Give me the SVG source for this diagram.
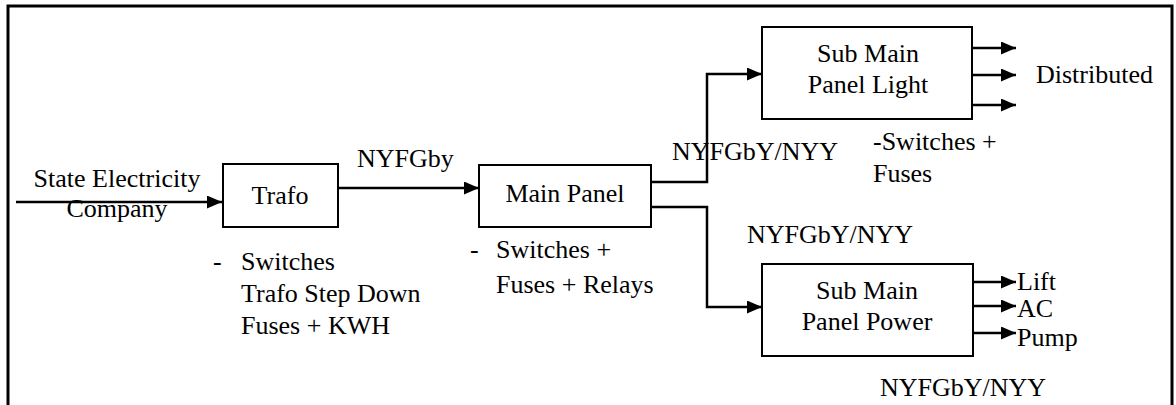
<svg xmlns="http://www.w3.org/2000/svg" width="1176" height="405" viewBox="0 0 1176 405">
  <style>
    text { font-family: "Liberation Serif", "Times New Roman", serif; font-size: 26px; fill: #000; }
    .mid { text-anchor: middle; }
    .box { fill: #fff; stroke: #000; stroke-width: 2; }
    .wire { fill: none; stroke: #000; stroke-width: 2.5; }
  </style>
  <defs>
    <marker id="arrow" markerUnits="userSpaceOnUse" markerWidth="15" markerHeight="13" refX="15" refY="6.5" orient="auto">
      <path d="M0,0 L15,6.5 L0,13 Z" fill="#000"/>
    </marker>
  </defs>
  <rect width="1176" height="405" fill="#fff"/>

  <!-- outer frame, open at the bottom -->
  <path d="M8,408 L8,6 L1172,6 L1172,408" fill="none" stroke="#000" stroke-width="3"/>

  <g id="connectors">
    <path class="wire" d="M16,202 L222,202" marker-end="url(#arrow)"/>
    <path class="wire" d="M338,188 L479,188" marker-end="url(#arrow)"/>
    <path class="wire" d="M651,182 L707,182 L707,74 L762,74" marker-end="url(#arrow)"/>
    <path class="wire" d="M651,207 L707,207 L707,307 L762,307" marker-end="url(#arrow)"/>
    <path class="wire" d="M972,48 L1016,48" marker-end="url(#arrow)"/>
    <path class="wire" d="M972,75 L1016,75" marker-end="url(#arrow)"/>
    <path class="wire" d="M972,105 L1016,105" marker-end="url(#arrow)"/>
    <path class="wire" d="M973,282 L1016,282" marker-end="url(#arrow)"/>
    <path class="wire" d="M973,306 L1016,306" marker-end="url(#arrow)"/>
    <path class="wire" d="M973,333 L1016,333" marker-end="url(#arrow)"/>
  </g>

  <g id="source">
    <text x="117" y="187" class="mid">State Electricity</text>
    <text x="117" y="217" class="mid">Company</text>
  </g>

  <g id="trafo">
    <rect class="box" x="223" y="164" width="115" height="63"/>
    <text x="280" y="204" class="mid">Trafo</text>
    <text x="213" y="270">-</text>
    <text x="241" y="270">Switches</text>
    <text x="241" y="302">Trafo Step Down</text>
    <text x="241" y="334">Fuses + KWH</text>
  </g>

  <text x="357" y="167">NYFGby</text>

  <g id="main-panel">
    <rect class="box" x="479" y="165" width="172" height="62"/>
    <text x="565" y="202" class="mid">Main Panel</text>
    <text x="470" y="258">-</text>
    <text x="496" y="258">Switches +</text>
    <text x="496" y="293">Fuses + Relays</text>
  </g>

  <text x="672" y="160">NYFGbY/NYY</text>
  <text x="747" y="243">NYFGbY/NYY</text>

  <g id="sub-main-light">
    <rect class="box" x="762" y="27" width="210" height="92"/>
    <text x="868" y="62" class="mid">Sub Main</text>
    <text x="868" y="93" class="mid">Panel Light</text>
    <text x="873" y="150">-Switches +</text>
    <text x="873" y="182">Fuses</text>
    <text x="1036" y="83">Distributed</text>
  </g>

  <g id="sub-main-power">
    <rect class="box" x="762" y="264" width="211" height="92"/>
    <text x="867" y="299" class="mid">Sub Main</text>
    <text x="867" y="330" class="mid">Panel Power</text>
    <text x="1017" y="290">Lift</text>
    <text x="1017" y="317">AC</text>
    <text x="1017" y="346">Pump</text>
  </g>

  <text x="880" y="396">NYFGbY/NYY</text>
</svg>
